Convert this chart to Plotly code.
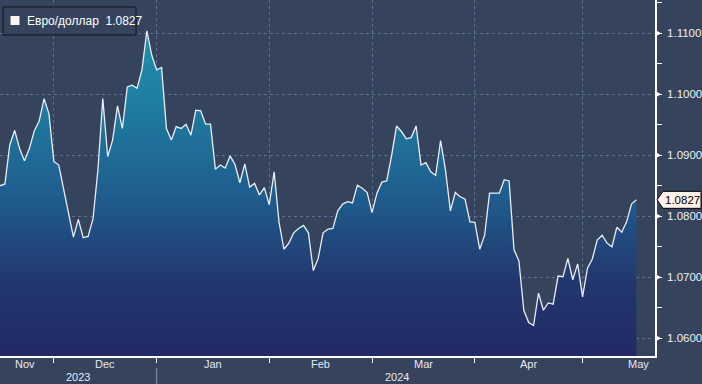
import plotly.graph_objects as go
import pandas as pd

# ---------------- data ----------------
dates = pd.bdate_range("2023-11-16", "2024-05-16")
eurusd = [
    1.0850, 1.0853, 1.0917, 1.0941, 1.0911, 1.0891, 1.0911, 1.0940, 1.0956, 1.0993,
    1.0968, 1.0890, 1.0884, 1.0843, 1.0802, 1.0766, 1.0795, 1.0765, 1.0767, 1.0796,
    1.0876, 1.0993, 1.0898, 1.0925, 1.0981, 1.0944, 1.1012, 1.1015, 1.1010, 1.1040,
    1.1104, 1.1064, 1.1040, 1.1044, 1.0944, 1.0925, 1.0947, 1.0944, 1.0951, 1.0933,
    1.0974, 1.0973, 1.0951, 1.0951, 1.0877, 1.0884, 1.0879, 1.0899, 1.0885, 1.0855,
    1.0886, 1.0848, 1.0854, 1.0835, 1.0847, 1.0819, 1.0873, 1.0790, 1.0746, 1.0756,
    1.0773, 1.0780, 1.0785, 1.0773, 1.0711, 1.0731, 1.0773, 1.0779, 1.0780, 1.0809,
    1.0820, 1.0824, 1.0822, 1.0851, 1.0846, 1.0839, 1.0806, 1.0838, 1.0856, 1.0858,
    1.0900, 1.0948, 1.0939, 1.0927, 1.0929, 1.0948, 1.0884, 1.0888, 1.0873, 1.0867,
    1.0924, 1.0876, 1.0809, 1.0839, 1.0832, 1.0828, 1.0791, 1.0790, 1.0746, 1.0769,
    1.0838, 1.0838, 1.0838, 1.0860, 1.0858, 1.0745, 1.0727, 1.0646, 1.0626, 1.0621,
    1.0674, 1.0646, 1.0658, 1.0656, 1.0702, 1.0701, 1.0731, 1.0696, 1.0722, 1.0668,
    1.0715, 1.0730, 1.0761, 1.0769, 1.0756, 1.0750, 1.0782, 1.0774, 1.0791, 1.0820,
    1.0827,
]
last_value = 1.0827
series_name = "Евро/доллар"
y_ticks = [1.06, 1.07, 1.08, 1.09, 1.10, 1.11]
y_tick_labels = ["1.0600", "1.0700", "1.0800", "1.0900", "1.1000", "1.1100"]
month_names = {11: "Nov", 12: "Dec", 1: "Jan", 2: "Feb", 3: "Mar", 4: "Apr", 5: "May"}

# ---------------- layout helpers ----------------
W, H = 702, 384
ML, MR, MT, MB = 0, 47, 0, 28
PW, PH = W - ML - MR, H - MT - MB
X_MAX = 133.8
Y_MIN, Y_MAX = 1.0571, 1.11546

def px(xp):
    return (xp - ML) / PW

def py(yp):
    return 1 - (yp - MT) / PH

BG = "#36435d"
GRID = "#5d6f95"
FONT = "Liberation Sans, Arial, sans-serif"

x = list(range(len(dates)))
months = [(d.year, d.month) for d in dates]
boundaries = [i for i in range(1, len(dates)) if months[i] != months[i - 1]]

fig = go.Figure()
fig.add_trace(go.Scatter(
    x=x, y=eurusd, mode="lines",
    line=dict(color="#e9eef5", width=1.3),
    fill="tozeroy",
    fillgradient=dict(
        type="vertical",
        start=Y_MIN, stop=Y_MAX,
        colorscale=[[0, "#222966"], [0.2, "#22366e"], [0.45, "#1f5d8e"],
                    [0.72, "#1f7ea2"], [1, "#2197b4"]],
    ),
    showlegend=False, hoverinfo="skip",
))

annotations = []
shapes = []

# month labels
month_starts = [0] + boundaries
for k, s in enumerate(month_starts):
    y_, m_ = months[s]
    full = pd.bdate_range(pd.Timestamp(y_, m_, 1), pd.Timestamp(y_, m_, 1) + pd.offsets.MonthEnd(0))
    first_idx = s - sum(1 for d in full if d < dates[0]) if k == 0 else s
    center = first_idx + len(full) / 2
    center = min(max(center, 5.2), 130.8)
    annotations.append(dict(x=center, y=py(364), xref="x", yref="paper", text=month_names[m_],
                            showarrow=False, xanchor="center", yanchor="middle",
                            font=dict(family=FONT, size=11, color="#e6e9ef")))

# year labels
year_split = [i for i in boundaries if months[i][1] == 1][0]
annotations.append(dict(x=year_split / 2, y=py(377), xref="x", yref="paper", text=str(dates[0].year),
                        showarrow=False, xanchor="center", yanchor="middle",
                        font=dict(family=FONT, size=11, color="#e6e9ef")))
annotations.append(dict(x=(year_split + len(dates) - 1) / 2, y=py(377), xref="x", yref="paper",
                        text=str(dates[-1].year), showarrow=False, xanchor="center", yanchor="middle",
                        font=dict(family=FONT, size=11, color="#e6e9ef")))
shapes.append(dict(type="line", xref="x", yref="paper", x0=year_split, x1=year_split,
                   y0=py(368), y1=py(384), line=dict(color="#8a93a8", width=1)))

# legend box
shapes.append(dict(type="rect", xref="paper", yref="paper", x0=px(3), x1=px(136), y0=py(35), y1=py(7),
                   line=dict(color="#0e121b", width=1), fillcolor=BG, layer="above"))
shapes.append(dict(type="rect", xref="paper", yref="paper", x0=px(10.5), x1=px(19.5), y0=py(25), y1=py(16),
                   line=dict(width=0), fillcolor="#fff3ee", layer="above"))
annotations.append(dict(x=px(25), y=py(21), xref="paper", yref="paper",
                        text=f"{series_name}  {last_value:.4f}", showarrow=False,
                        xanchor="left", yanchor="middle",
                        font=dict(family=FONT, size=12, color="#ffffff")))

# triangle markers at major y ticks (drawn as small path shapes on the axis)
for v in y_ticks:
    yc = 33.3 + (1.11 - v) / 0.01 * 61
    tri = f"M {px(655)} {py(yc - 3.5)} L {px(661)} {py(yc)} L {px(655)} {py(yc + 3.5)} Z"
    shapes.append(dict(type="path", xref="paper", yref="paper", path=tri,
                       line=dict(width=0), fillcolor="#ffffff", layer="above"))

# last value tag on the right axis
ty = 33.3 + (1.11 - last_value) / 0.01 * 61
path = (f"M {px(657)} {py(ty)} L {px(663)} {py(ty - 8.5)} L {px(701)} {py(ty - 8.5)} "
        f"L {px(701)} {py(ty + 8.5)} L {px(663)} {py(ty + 8.5)} Z")
shapes.append(dict(type="path", xref="paper", yref="paper", path=path,
                   line=dict(color="#000000", width=1), fillcolor="#fdf1e9", layer="above"))
annotations.append(dict(x=px(682), y=py(ty), xref="paper", yref="paper", text=f"{last_value:.4f}",
                        showarrow=False, xanchor="center", yanchor="middle",
                        font=dict(family=FONT, size=11.5, color="#000000")))

fig.update_layout(
    width=W, height=H,
    margin=dict(l=ML, r=MR, t=MT, b=MB),
    paper_bgcolor=BG, plot_bgcolor=BG,
    showlegend=False,
    shapes=shapes, annotations=annotations,
    xaxis=dict(
        range=[0, X_MAX], tickvals=boundaries, showticklabels=False,
        ticks="outside", ticklen=5, tickcolor="#ffffff", tickwidth=1,
        showgrid=True, gridcolor=GRID, griddash="dot", gridwidth=1,
        showline=True, linecolor="#ffffff", linewidth=1.5,
        zeroline=False, layer="above traces", fixedrange=True,
    ),
    yaxis=dict(
        side="right", range=[Y_MIN, Y_MAX],
        tickvals=y_ticks, ticktext=y_tick_labels,
        ticks="outside", ticklen=8, tickcolor="rgba(0,0,0,0)", ticklabelstandoff=0,
        tickfont=dict(family=FONT, size=11.5, color="#eef0f4"),
        minor=dict(dtick=0.005, tick0=1.055, ticks="outside", ticklen=5, tickcolor="#ffffff", showgrid=False),
        showgrid=True, gridcolor=GRID, griddash="dot", gridwidth=1,
        showline=True, linecolor="#ffffff", linewidth=1.5,
        zeroline=False, layer="above traces", fixedrange=True,
    ),
)

fig.write_html(
    "out.html",
    config={"displayModeBar": False},
    post_script="document.body.style.margin='0';document.body.style.background='#36435d';",
)
